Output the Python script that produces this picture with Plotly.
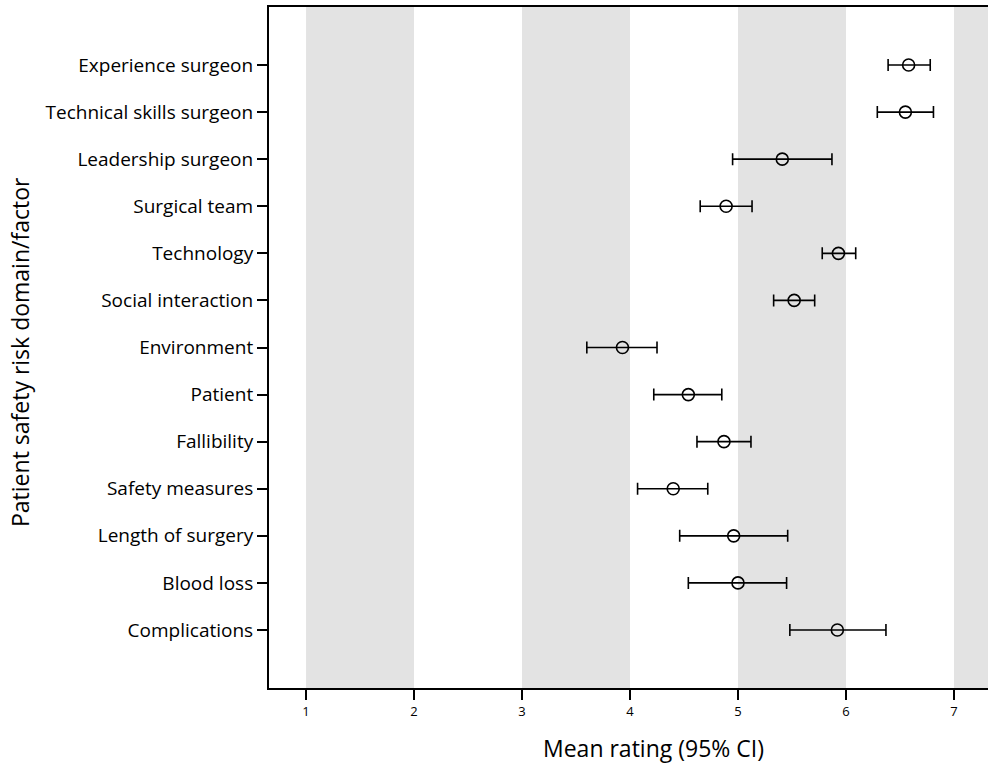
import plotly.graph_objects as go

factors = ["Experience surgeon", "Technical skills surgeon", "Leadership surgeon",
           "Surgical team", "Technology", "Social interaction", "Environment",
           "Patient", "Fallibility", "Safety measures", "Length of surgery",
           "Blood loss", "Complications"]
means = [6.58, 6.55, 5.41, 4.89, 5.93, 5.52, 3.93, 4.54, 4.87, 4.40, 4.96, 5.00, 5.92]
lower = [6.39, 6.29, 4.95, 4.65, 5.78, 5.33, 3.60, 4.22, 4.62, 4.07, 4.46, 4.54, 5.48]
upper = [6.78, 6.81, 5.87, 5.13, 6.09, 5.71, 4.25, 4.85, 5.12, 4.72, 5.46, 5.45, 6.37]
x_ticks = [1, 2, 3, 4, 5, 6, 7]
bands = [(1, 2), (3, 4), (5, 6), (7, 8)]

err_plus = [u - m for u, m in zip(upper, means)]
err_minus = [m - l for m, l in zip(means, lower)]

font_family = "'Open Sans', sans-serif"

W, H = 988, 763
L, R, T, B = 269, 0, 7, 75
pw = W - L - R
ph = H - T - B

fig = go.Figure()
fig.add_trace(go.Scatter(
    x=means, y=factors, mode="markers",
    marker=dict(symbol="circle-open", size=12, color="black", line=dict(width=1.6, color="black")),
    error_x=dict(type="data", symmetric=False, array=err_plus, arrayminus=err_minus,
                 color="black", thickness=1.6, width=6),
    showlegend=False, cliponaxis=False,
))

for a, b in bands:
    fig.add_shape(type="rect", xref="x", yref="paper", x0=a, x1=b, y0=0, y1=1,
                  fillcolor="#e3e3e3", line=dict(width=0), layer="below")

fig.add_annotation(text="Mean rating (95% CI)", xref="paper", yref="paper",
                   x=(653 - L) / pw, y=-(748 - T - ph) / ph, xanchor="center", yanchor="middle",
                   showarrow=False, font=dict(size=23, family=font_family, color="black"))
fig.add_annotation(text="Patient safety risk domain/factor", xref="paper", yref="paper",
                   x=-(L - 20) / pw, y=1 - (352 - T) / ph, xanchor="center", yanchor="middle",
                   textangle=-90, showarrow=False,
                   font=dict(size=23, family=font_family, color="black"))

fig.update_layout(
    width=W, height=H,
    margin=dict(l=L, r=R, t=T, b=B),
    paper_bgcolor="white", plot_bgcolor="white",
    font=dict(family=font_family, color="black"),
)
fig.update_xaxes(
    range=[0.657, 7.315], tickvals=x_ticks, ticktext=[str(t) for t in x_ticks],
    showgrid=False, zeroline=False, showline=True, linecolor="black", linewidth=2,
    mirror=True, ticks="outside", ticklen=10, tickwidth=2, tickcolor="black",
    tickfont=dict(size=13, family=font_family),
)
fig.update_yaxes(
    type="category", categoryorder="array", categoryarray=factors[::-1],
    range=[-1.232, 13.232], showgrid=False, zeroline=False,
    showline=True, linecolor="black", linewidth=2, mirror=False,
    ticks="outside", ticklen=10, tickwidth=2, tickcolor="black",
    tickfont=dict(size=19, family=font_family),
)

fig.write_html("out.html", config={"displayModeBar": False},
               post_script="document.body.style.margin='0';document.body.style.overflow='hidden';")
